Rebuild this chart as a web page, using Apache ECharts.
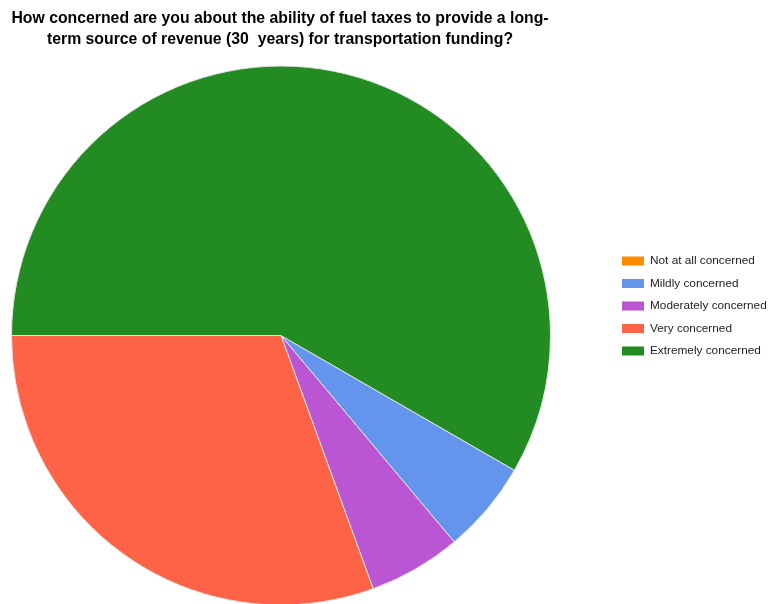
<!DOCTYPE html>
<html>
<head>
<meta charset="utf-8">
<script src="https://cdn.jsdelivr.net/npm/echarts@6/dist/echarts.min.js"></script>
<style>
html,body{margin:0;padding:0;background:#fff;}
#chart{width:768px;height:604px;}
</style>
</head>
<body>
<div id="chart"></div>
<script>
// Survey responses: concern about fuel taxes as long-term revenue
const categories = ['Not at all concerned', 'Mildly concerned', 'Moderately concerned', 'Very concerned', 'Extremely concerned'];
const responses = [0, 2, 2, 11, 21];
const sliceColors = ['#FF8C00', '#6495ED', '#BA55D3', '#FF6347', '#228B22'];

const chart = echarts.init(document.getElementById('chart'), null, {renderer: 'canvas'});
chart.setOption({
  animation: false,
  title: {
    text: 'How concerned are you about the ability of fuel taxes to provide a long-\nterm source of revenue (30  years) for transportation funding?',
    left: 275,
    textAlign: 'center',
    top: 3,
    textStyle: {
      fontFamily: 'Liberation Sans, Arial, sans-serif',
      fontSize: 15.8,
      fontWeight: 'bold',
      color: '#000',
      lineHeight: 21
    }
  },
  legend: {
    orient: 'vertical',
    left: 617,
    top: 250,
    itemWidth: 22,
    itemHeight: 9,
    itemGap: 10.5,
    icon: 'rect',
    selectedMode: false,
    itemStyle: {borderWidth: 0},
    textStyle: {
      fontFamily: 'Liberation Sans, Arial, sans-serif',
      fontSize: 11.8,
      color: '#222',
      padding: [0, 0, 0, 1]
    },
    data: categories
  },
  color: sliceColors,
  series: [{
    type: 'pie',
    center: [281, 335.5],
    radius: 269.5,
    startAngle: -30,
    clockwise: true,
    silent: true,
    label: {show: false},
    labelLine: {show: false},
    itemStyle: {borderColor: '#e4e4e4', borderWidth: 1},
    data: categories.map((name, i) => ({name: name, value: responses[i]}))
  }]
});
</script>
</body>
</html>
